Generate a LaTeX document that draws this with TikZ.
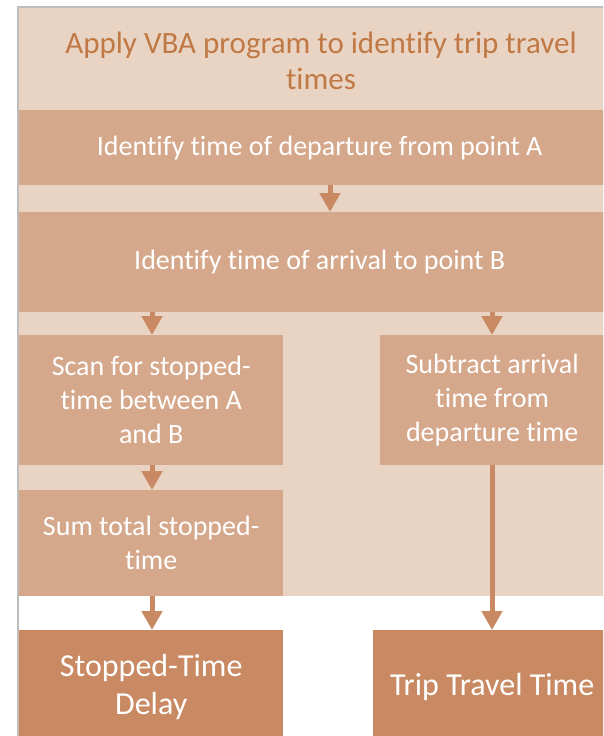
\documentclass[tikz,border=0pt]{standalone}
\usepackage{fontspec}
\setmainfont{Carlito}[Ligatures={NoCommon}]
\usetikzlibrary{arrows.meta}
\definecolor{panelc}{HTML}{E9D4C4}
\definecolor{midc}{HTML}{D6A88B}
\definecolor{darkc}{HTML}{C98A63}
\definecolor{titlec}{HTML}{C07844}
\definecolor{framec}{HTML}{BDBDBD}
\tikzset{
  boxmid/.style={fill=midc, draw=none, anchor=north west, inner sep=0pt, text=white, align=center, font=\fontsize{28}{34}\selectfont},
  boxdark/.style={fill=darkc, draw=none, anchor=north west, inner sep=0pt, text=white, align=center, font=\fontsize{32}{38}\selectfont},
  flow/.style={draw=darkc, line width=5pt, -{Triangle[width=20pt,length=19pt]}},
}
\begin{document}
\begin{tikzpicture}[x=1pt,y=-1pt]
\useasboundingbox (0,0) rectangle (603,736);
\clip (0,0) rectangle (603,736);
% frame
\draw[framec, line width=1.5pt] (18,736) -- (18,7) -- (603,7);
% panel
\node[fill=panelc, anchor=north west, inner sep=0pt, minimum width=590pt, minimum height=588pt] (panel) at (19,8) {};
\node[text=titlec, align=center, font=\fontsize{31}{36}\selectfont] (title) at (321,61) {Apply VBA program to identify trip travel\\times};
% bars
\node[boxmid, minimum width=601pt, minimum height=75pt] (dep) at (19,110) {Identify time of departure from point A};
\node[boxmid, minimum width=601pt, minimum height=100pt] (arr) at (19,212) {Identify time of arrival to point B};
% middle boxes
\node[boxmid, minimum width=264pt, minimum height=130pt] (scan) at (19,335) {Scan for stopped-\\time between A\\and B};
\node[boxmid, minimum width=224pt, minimum height=130pt] (sub) at (380,335) {Subtract arrival\\time from\\departure time};
\node[boxmid, minimum width=264pt, minimum height=106pt] (sum) at (19,490) {Sum total stopped-\\time};
% result boxes
\node[boxdark, minimum width=264pt, minimum height=114pt] (delay) at (19,630) {Stopped-Time\\Delay};
\node[boxdark, minimum width=238pt, minimum height=114pt] (trip) at (373,630) {Trip Travel Time};
% arrows
\coordinate (xa) at (330,0);
\coordinate (xl) at (152,0);
\coordinate (xr) at (492,0);
\draw[flow] (dep.south -| xa) -- (arr.north -| xa);
\draw[flow] (arr.south -| xl) -- (scan.north -| xl);
\draw[flow] (arr.south -| xr) -- (sub.north -| xr);
\draw[flow] (scan.south -| xl) -- (sum.north -| xl);
\draw[flow] (sum.south -| xl) -- (delay.north -| xl);
\draw[flow] (sub.south -| xr) -- (trip.north -| xr);
\end{tikzpicture}
\end{document}
